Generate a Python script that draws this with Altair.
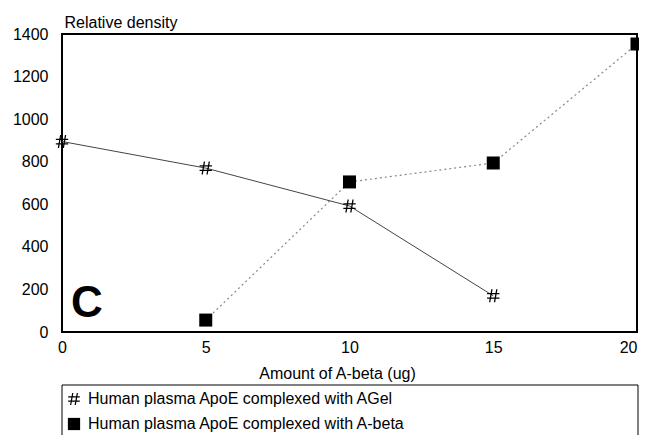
import altair as alt
import pandas as pd

# ---- data ----
series_names = [
    "Human plasma ApoE complexed with AGel",
    "Human plasma ApoE complexed with A-beta",
]
amount_agel = [0, 5, 10, 15]
density_agel = [895, 770, 592, 170]
amount_abeta = [5, 10, 15, 20]
density_abeta = [56, 705, 794, 1353]

x_ticks = [0, 5, 10, 15, 20]
y_ticks = [0, 200, 400, 600, 800, 1000, 1200, 1400]

panel_label = ["C"]
panel_x = [0.31]
panel_y = [70]

FONT = "Liberation Sans"
# "#" glyph drawn as filled thin bars
HASH = ("M-0.30,-1L-0.10,-1L-0.45,1L-0.65,1Z"
        "M0.45,-1L0.65,-1L0.30,1L0.10,1Z"
        "M-0.95,-0.44L0.95,-0.44L0.95,-0.24L-0.95,-0.24Z"
        "M-0.95,0.26L0.95,0.26L0.95,0.46L-0.95,0.46Z")

df = pd.concat([
    pd.DataFrame({"series": series_names[0], "amount": amount_agel, "density": density_agel}),
    pd.DataFrame({"series": series_names[1], "amount": amount_abeta, "density": density_abeta}),
], ignore_index=True)

X = alt.X("amount:Q",
          scale=alt.Scale(domain=[0, 20], nice=False, zero=False),
          axis=alt.Axis(values=x_ticks, title="Amount of A-beta (ug)", format="d",
                        labelPadding=7, labelFlush=False,
                        labelAlign={"condition": {"test": "datum.value == 20", "value": "right"},
                                    "value": "center"},
                        titleX=275, titleY=46, titleAlign="center",
                        titleBaseline="alphabetic"))
Y = alt.Y("density:Q",
          scale=alt.Scale(domain=[0, 1400], nice=False),
          axis=alt.Axis(values=y_ticks, title="Relative density", format="d",
                        labelPadding=14, titleAngle=0, titleAlign="left",
                        titleBaseline="alphabetic", titleX=2, titleY=-7))

base = alt.Chart(df).encode(x=X, y=Y)

line_agel = base.transform_filter(alt.datum.series == series_names[0]).mark_line(
    color="#444444", strokeWidth=1)
line_abeta = base.transform_filter(alt.datum.series == series_names[1]).mark_line(
    color="#888888", strokeWidth=1.2, strokeDash=[2, 3])

points = base.mark_point(filled=True, color="black", opacity=1, size=169).encode(
    shape=alt.Shape("series:N",
                    scale=alt.Scale(domain=series_names, range=[HASH, "square"]),
                    legend=alt.Legend(title=None, orient="none", legendX=0, legendY=353,
                                      direction="vertical", labelFont=FONT,
                                      labelFontSize=16, labelColor="black",
                                      symbolSize=150, symbolFillColor="black",
                                      symbolOpacity=1, padding=4, rowPadding=5,
                                      labelOffset=6, labelLimit=0)))

label_df = pd.DataFrame({"amount": panel_x, "density": panel_y, "label": panel_label})
panel = alt.Chart(label_df).mark_text(
    font=FONT, fontSize=44, fontWeight="bold", align="left", baseline="alphabetic",
    color="black").encode(x=X, y=Y, text="label:N")

legend_box = alt.Chart(pd.DataFrame({"k": [0]})).mark_rect(
    fill="transparent", stroke="black", strokeWidth=1).encode(
    x=alt.value(0), x2=alt.value(576), y=alt.value(351), y2=alt.value(420))

chart = alt.layer(legend_box, line_agel, line_abeta, points, panel).properties(
    width=575, height=298,
    background="white",
    autosize=alt.AutoSizeParams(type="none"),
    padding={"left": 54, "top": 26, "right": 2, "bottom": 103},
).configure_view(stroke="black", strokeWidth=2).configure_axis(
    domain=False, grid=False, ticks=False, labelFont=FONT, labelFontSize=16,
    labelColor="black", titleFont=FONT, titleFontSize=16, titleFontWeight="normal",
    titleColor="black")

chart.save("out.html", embed_options={"renderer": "svg", "actions": False})
